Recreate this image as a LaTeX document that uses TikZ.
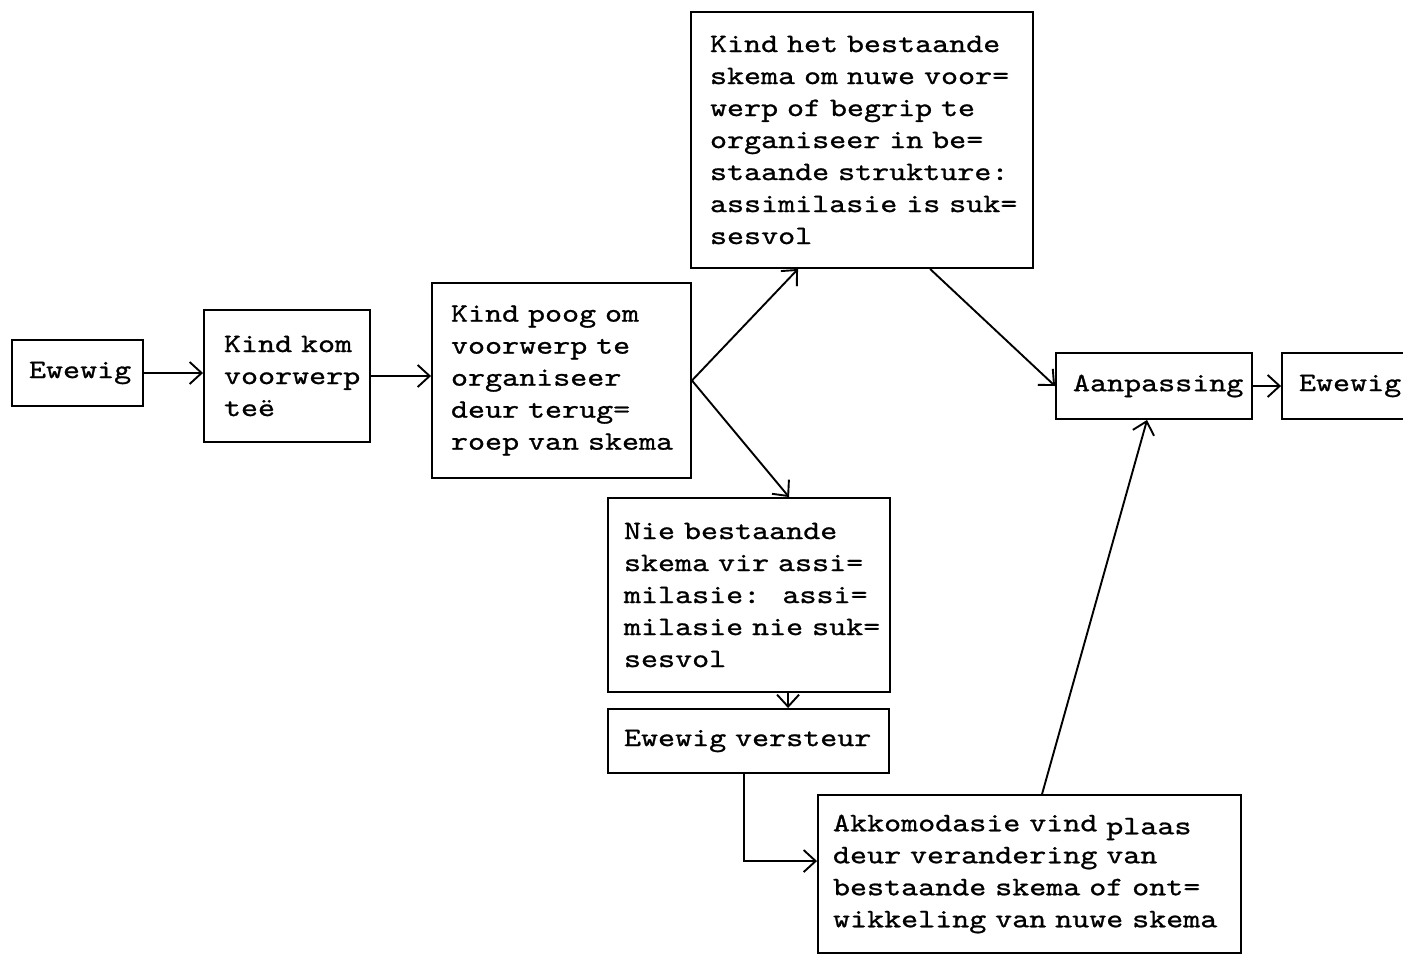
\documentclass[tikz,border=0pt]{standalone}
\usepackage{fontspec}
\usetikzlibrary{arrows.meta,calc}
\newfontfamily\twfont{lmmono10-regular.otf}[FakeStretch=1.22,FakeBold=0.9]
\newcommand\twsize{\twfont\fontsize{26.6}{32}\selectfont}
\newcommand\lineof[1]{\mbox{#1}}
\begin{document}
\begin{tikzpicture}[x=1pt,y=-1pt,
  box/.style={draw,line width=1.9pt,inner ysep=0pt,align=left,font=\twsize},
  conn/.style={line width=1.9pt,-{Straight Barb[length=12pt,width=22pt,line width=1.9pt]}}]
\useasboundingbox (0,0) rectangle (1403,956);
\node[box,inner xsep=17pt,text width=97pt,minimum height=66pt] (b1) at (77.5,373) {\lineof{Ewewig}};
\node[box,inner xsep=20pt,text width=126pt,minimum height=132pt] (b2) at (287,376) {\lineof{Kind kom}\\\lineof{voorwerp}\\\lineof{teë}};
\node[box,inner xsep=19pt,text width=221pt,minimum height=195pt] (b3) at (561.5,380.5) {\lineof{Kind poog om}\\\lineof{voorwerp te}\\\lineof{organiseer}\\\lineof{deur terug=}\\\lineof{roep van skema}};
\node[box,inner xsep=19pt,text width=304pt,minimum height=256pt] (b4) at (862,140) {\lineof{Kind het bestaande}\\\lineof{skema om nuwe voor=}\\\lineof{werp of begrip te}\\\lineof{organiseer in be=}\\\lineof{staande strukture:}\\\lineof{assimilasie is suk=}\\\lineof{sesvol}};
\node[box,inner xsep=16pt,text width=250pt,minimum height=194pt] (b5) at (749,595) {\lineof{Nie bestaande}\\\lineof{skema vir assi=}\\\lineof{milasie:~ assi=}\\\lineof{milasie nie suk=}\\\lineof{sesvol}};
\node[box,inner xsep=16pt,text width=249pt,minimum height=64pt] (b6) at (748.5,741) {\lineof{Ewewig versteur}};
\node[box,inner xsep=15pt,text width=393pt,minimum height=158pt] (b7) at (1029.5,874) {\lineof{Akkomodasie vind \raisebox{-3pt}{plaas}}\\\lineof{deur verandering van}\\\lineof{bestaande skema of ont=}\\\lineof{wikkeling van nuwe skema}};
\node[box,inner xsep=17pt,text width=162pt,minimum height=66pt] (b8) at (1154,386) {\lineof{Aanpassing}};
\node[box,inner xsep=17pt,text width=114pt,minimum height=66pt] (b9) at (1356,386) {\lineof{Ewewig}};
\draw[conn] (b1.east) -- (b1.east -| b2.west);
\draw[conn] (b2.east) -- (b2.east -| b3.west);
\draw[conn] (b3.east) -- ($(b4.south west)+(108,0)$);
\draw[conn] (b3.east) -- ($(b5.north west)+(182,0)$);
\draw[conn] ($(b4.south west)+(240,0)$) -- (b8.west);
\draw[conn] ($(b5.south west)+(181,0)$) -- ($(b6.north west)+(181,0)$);
\draw[conn] ($(b6.south west)+(137,0)$) |- ($(b7.north west)+(0,67)$);
\draw[conn] ($(b7.north west)+(225,0)$) -- ($(b8.south west)+(92,0)$);
\draw[conn] (b8.east) -- (b9.west);
\end{tikzpicture}
\end{document}
